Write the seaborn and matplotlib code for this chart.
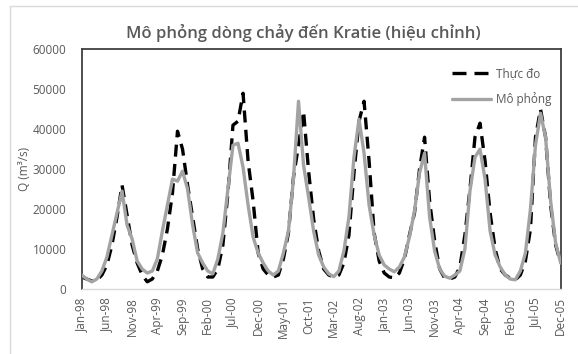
import numpy as np
import pandas as pd
import matplotlib
matplotlib.use("Agg")
import matplotlib.pyplot as plt
from matplotlib.lines import Line2D
import seaborn as sns

# ---------------- data (monthly, Jan-98 .. Dec-05) ----------------
tick_labels = ["Jan-98", "Jun-98", "Nov-98", "Apr-99", "Sep-99", "Feb-00", "Jul-00",
               "Dec-00", "May-01", "Oct-01", "Mar-02", "Aug-02", "Jan-03", "Jun-03",
               "Nov-03", "Apr-04", "Sep-04", "Feb-05", "Jul-05", "Dec-05"]

obs_1998 = [3000, 2500, 2000, 2200, 3500, 6000, 11000, 18000, 26000, 18500, 11000, 6500]
obs_1999 = [3500, 1800, 2500, 4500, 8500, 15000, 24000, 39500, 35000, 26000, 18000, 10000]
obs_2000 = [5000, 3000, 3000, 5000, 11000, 24000, 41000, 42000, 49000, 32000, 22000, 9000]
obs_2001 = [5000, 3500, 3000, 3500, 7500, 14000, 28000, 36000, 44500, 29500, 17500, 9500]
obs_2002 = [5000, 3500, 3000, 3500, 6500, 13500, 29000, 42000, 47000, 32000, 14000, 7000]
obs_2003 = [4000, 3000, 2800, 4000, 7500, 13500, 19000, 30000, 38000, 22000, 12000, 5000]
obs_2004 = [2700, 2500, 3000, 5500, 13500, 25000, 38000, 41500, 32000, 19000, 10000, 5000]
obs_2005 = [3500, 2700, 2300, 3500, 7000, 15000, 38000, 45000, 38000, 21000, 11000, 6500]

sim_1998 = [3500, 2500, 1800, 2500, 4500, 8000, 13500, 19000, 24500, 16000, 12500, 7000]
sim_1999 = [5000, 4000, 4500, 7500, 14500, 21000, 27500, 27000, 29500, 25000, 16000, 9000]
sim_2000 = [6500, 4500, 3800, 7500, 14000, 25000, 36000, 36500, 30500, 21000, 13000, 9000]
sim_2001 = [6500, 4500, 3500, 4500, 9000, 14500, 27500, 47000, 31000, 23000, 14500, 8500]
sim_2002 = [5500, 3800, 3100, 4500, 9500, 18000, 33000, 42500, 34000, 21000, 13500, 8500]
sim_2003 = [6000, 5000, 4300, 5500, 8000, 13000, 19500, 29000, 34000, 18000, 9500, 5000]
sim_2004 = [3200, 2700, 3500, 4500, 10000, 24500, 33000, 35000, 27500, 14500, 8500, 5500]
sim_2005 = [3500, 2500, 2300, 4500, 9000, 20000, 36000, 44000, 38000, 22000, 11500, 6500]

observed = (obs_1998 + obs_1999 + obs_2000 + obs_2001 + obs_2002 + obs_2003
            + obs_2004 + obs_2005)
simulated = (sim_1998 + sim_1999 + sim_2000 + sim_2001 + sim_2002 + sim_2003
             + sim_2004 + sim_2005)

df = pd.DataFrame({"month": np.arange(len(observed)),
                   "obs": observed, "sim": simulated})

# ---------------- styling ----------------
sns.set_theme(style="white")
plt.rcParams["font.family"] = ["Open Sans", "DejaVu Sans"]
TXT = "#595959"

fig = plt.figure(figsize=(5.78, 3.54), dpi=100)
fig.patch.set_facecolor("white")
ax = fig.add_axes([81.7 / 578, 1 - 289 / 354, (560.7 - 81.7) / 578, (289 - 49.3) / 354])

sns.lineplot(data=df, x="month", y="obs", ax=ax, color="black", lw=2.4,
             linestyle=(0, (3.6, 2.2)), zorder=2)
sns.lineplot(data=df, x="month", y="sim", ax=ax, color="#a3a3a3", lw=2.4,
             zorder=3)

ax.set_xlim(0, len(observed) - 1)
ax.set_ylim(0, 60000)
ax.set_yticks(np.arange(0, 60001, 10000))
ax.set_yticklabels([str(v) for v in range(0, 60001, 10000)])
ax.set_xticks(np.arange(0, len(observed), 5))
ax.set_xticklabels(tick_labels, rotation=90)
ax.tick_params(axis="y", length=0, pad=11, labelsize=8.5, labelcolor=TXT)
ax.tick_params(axis="x", length=0, pad=6, labelsize=8.5, labelcolor=TXT)
ax.set_xlabel("")
ax.set_ylabel("")

for s in ["left", "top", "right"]:
    ax.spines[s].set_color("#404040")
    ax.spines[s].set_linewidth(1.3)
ax.spines["bottom"].set_color("#d9d9d9")
ax.spines["bottom"].set_linewidth(1.0)

handles = [Line2D([], [], color="black", lw=2.4, linestyle=(0, (4.2, 2.4))),
           Line2D([], [], color="#a3a3a3", lw=2.4)]
leg = ax.legend(handles, ["Thực đo", "Mô phỏng"], loc="upper right",
                bbox_to_anchor=(1.0, 0.965), frameon=False, fontsize=8.5,
                handlelength=3.3, labelspacing=1.0, handletextpad=0.4,
                borderaxespad=0.4)
for t in leg.get_texts():
    t.set_color(TXT)

fig.text(303 / 578, 1 - 33 / 354, "Mô phỏng dòng chảy đến Kratie (hiệu chỉnh)",
         ha="center", va="center", fontsize=12, fontweight="semibold", color=TXT)
fig.text(25 / 578, 1 - 169 / 354, "Q (m³/s)", rotation=90, ha="center",
         va="center", fontsize=8.5, color=TXT)

# outer chart border (left and top visible)
fig.add_artist(Line2D([10 / 578, 10 / 578], [0, 1 - 6 / 354],
                      transform=fig.transFigure, color="#d9d9d9", lw=1))
fig.add_artist(Line2D([10 / 578, 1], [1 - 6 / 354, 1 - 6 / 354],
                      transform=fig.transFigure, color="#d9d9d9", lw=1))

fig.savefig("out.png", dpi=100)
